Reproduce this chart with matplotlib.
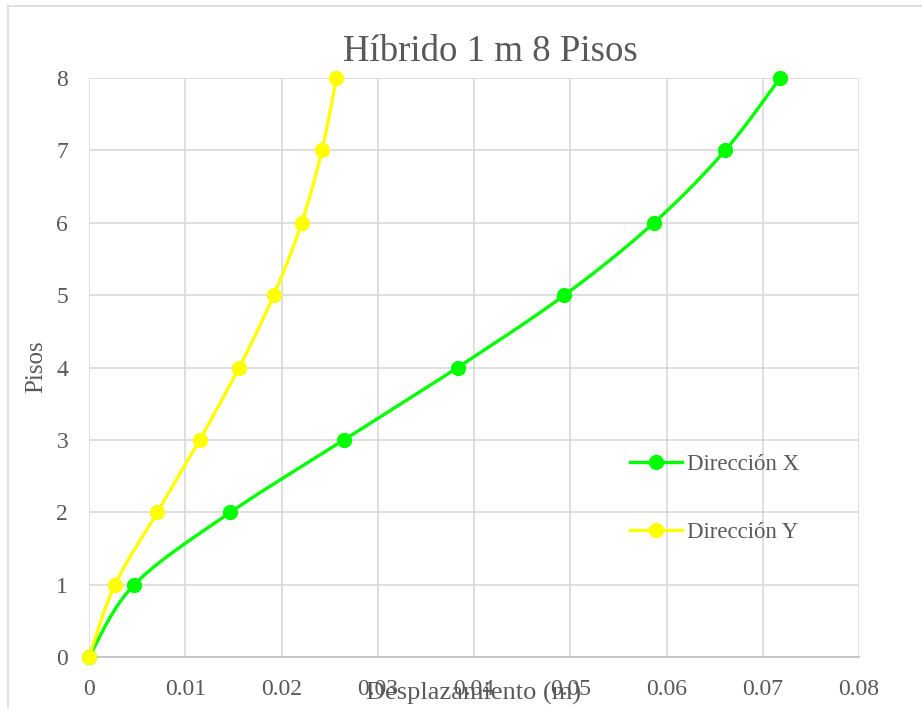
import numpy as np
import matplotlib
matplotlib.use("Agg")
import matplotlib.pyplot as plt
from matplotlib.lines import Line2D

pisos = [0, 1, 2, 3, 4, 5, 6, 7, 8]
desp_x = [0, 0.0047, 0.0147, 0.0265, 0.0383, 0.0494, 0.0587, 0.0661, 0.0718]
desp_y = [0, 0.0027, 0.0071, 0.0115, 0.0156, 0.0192, 0.0221, 0.0242, 0.0257]
x_ticks = [0, 0.01, 0.02, 0.03, 0.04, 0.05, 0.06, 0.07, 0.08]
x_tick_labels = ["0", "0.01", "0.02", "0.03", "0.04", "0.05", "0.06", "0.07", "0.08"]
y_ticks = [0, 1, 2, 3, 4, 5, 6, 7, 8]
title = "Híbrido 1 m 8 Pisos"
xlabel = "Desplazamiento (m)"
ylabel = "Pisos"
series_names = ["Dirección X", "Dirección Y"]
colors = ["#00FF00", "#FFFF00"]

plt.rcParams['font.family'] = ['Liberation Serif', 'DejaVu Serif']
TXT = "#595959"


def smooth(xs, ys, n=30):
    # Catmull-Rom style smoothing similar to spreadsheet "smoothed line"
    P = np.column_stack([xs, ys]).astype(float)
    pts = np.vstack([P[0], P, P[-1]])
    out = []
    for i in range(1, len(pts) - 2):
        p0, p1, p2, p3 = pts[i - 1], pts[i], pts[i + 1], pts[i + 2]
        t = np.linspace(0, 1, n)[:, None]
        seg = 0.5 * ((2 * p1) + (-p0 + p2) * t + (2 * p0 - 5 * p1 + 4 * p2 - p3) * t ** 2
                     + (-p0 + 3 * p1 - 3 * p2 + p3) * t ** 3)
        out.append(seg if i == 1 else seg[1:])
    out = np.vstack(out)
    return out[:, 0], out[:, 1]


fig = plt.figure(figsize=(9.22, 7.08), dpi=100)
W, H = 922, 708
ax = fig.add_axes([89 / W, (H - 657) / H, (859 - 89) / W, (657 - 78) / H])

# chart border
fig.add_artist(Line2D([8 / W, 8 / W], [0, 1 - 6 / H], color="#d9d9d9", lw=1.2, transform=fig.transFigure))
fig.add_artist(Line2D([8 / W, 1], [1 - 6 / H, 1 - 6 / H], color="#d9d9d9", lw=1.2, transform=fig.transFigure))

for xs, c in zip([desp_x, desp_y], colors):
    sx, sy = smooth(xs, pisos)
    ax.plot(sx, sy, color=c, lw=2.4, solid_capstyle='round', zorder=3)
    ax.plot(xs, pisos, linestyle='none', marker='o', ms=10, color=c, zorder=4, clip_on=False)

ax.set_xlim(0, 0.08)
ax.set_ylim(0, 8)
ax.set_xticks(x_ticks)
ax.set_xticklabels(x_tick_labels)
ax.set_yticks(y_ticks)
ax.grid(True, color="#d9d9d9", lw=1.2)
ax.set_axisbelow(True)
for s in ["top", "right", "left"]:
    ax.spines[s].set_visible(False)
ax.spines["bottom"].set_color("#bfbfbf")
ax.spines["bottom"].set_linewidth(1.2)
ax.tick_params(length=0, labelsize=17, labelcolor=TXT)
ax.tick_params(axis='x', pad=16)
ax.tick_params(axis='y', pad=15)

fig.text(490 / W, 1 - 52 / H, title, ha='center', va='center', fontsize=26.5, color=TXT)
fig.text(474 / W, 1 - 693 / H, xlabel, ha='center', va='center', fontsize=19, color=TXT)
fig.text(36 / W, 1 - 367 / H, ylabel, ha='center', va='center', fontsize=18, color=TXT, rotation=90)

handles = [Line2D([0], [0], color=c, lw=2.4, marker='o', ms=10) for c in colors]
leg = ax.legend(handles, series_names, loc='center left', bbox_to_anchor=(0.676, 0.273),
                frameon=False, fontsize=16.5, labelspacing=2.05, handlelength=2.25,
                handletextpad=0.25, labelcolor=TXT)

fig.savefig("out.png", dpi=100)
